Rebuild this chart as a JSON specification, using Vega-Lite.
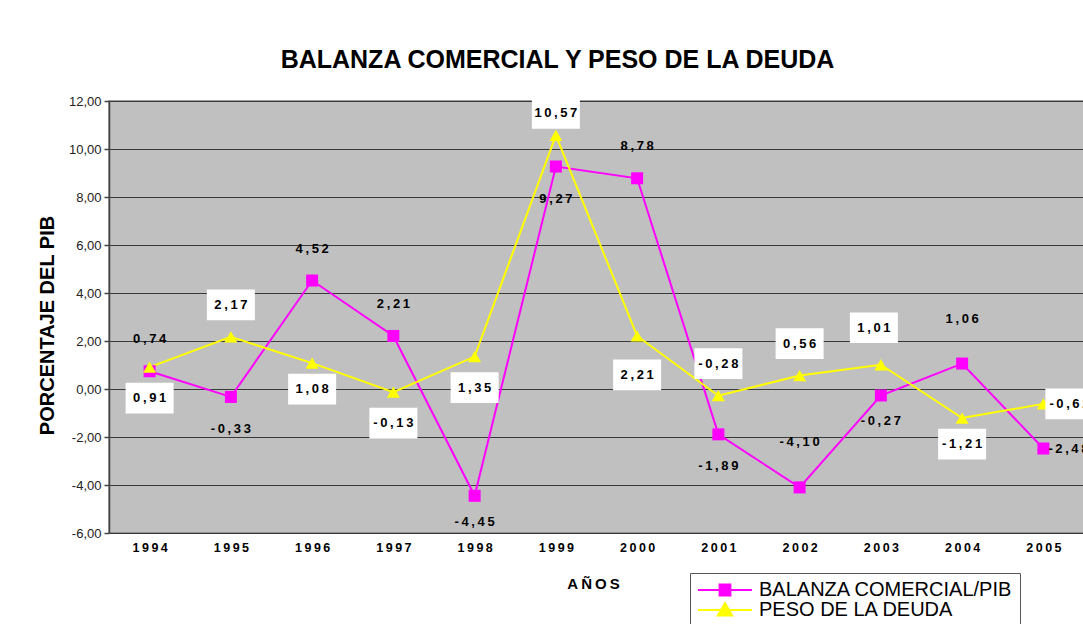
{
  "$schema": "https://vega.github.io/schema/vega-lite/v6.json",
  "autosize": "none",
  "padding": {"left": 109, "top": 101, "right": 0, "bottom": 91},
  "width": 975,
  "height": 432,
  "background": "white",
  "title": {
    "text": "BALANZA COMERCIAL Y PESO DE LA DEUDA",
    "font": "Liberation Sans",
    "fontSize": 25,
    "fontWeight": "bold",
    "color": "black",
    "anchor": "middle",
    "offset": 22,
    "dx": -39
  },
  "config": {
    "view": {"fill": "#C0C0C0", "stroke": "#808080", "strokeWidth": 1.5},
    "font": "Liberation Sans"
  },
  "data": {
    "values": [
      {"anio": "1994", "serie": "BALANZA COMERCIAL/PIB", "valor": 0.74},
      {"anio": "1995", "serie": "BALANZA COMERCIAL/PIB", "valor": -0.33},
      {"anio": "1996", "serie": "BALANZA COMERCIAL/PIB", "valor": 4.52},
      {"anio": "1997", "serie": "BALANZA COMERCIAL/PIB", "valor": 2.21},
      {"anio": "1998", "serie": "BALANZA COMERCIAL/PIB", "valor": -4.45},
      {"anio": "1999", "serie": "BALANZA COMERCIAL/PIB", "valor": 9.27},
      {"anio": "2000", "serie": "BALANZA COMERCIAL/PIB", "valor": 8.78},
      {"anio": "2001", "serie": "BALANZA COMERCIAL/PIB", "valor": -1.89},
      {"anio": "2002", "serie": "BALANZA COMERCIAL/PIB", "valor": -4.10},
      {"anio": "2003", "serie": "BALANZA COMERCIAL/PIB", "valor": -0.27},
      {"anio": "2004", "serie": "BALANZA COMERCIAL/PIB", "valor": 1.06},
      {"anio": "2005", "serie": "BALANZA COMERCIAL/PIB", "valor": -2.48},
      {"anio": "1994", "serie": "PESO DE LA DEUDA", "valor": 0.91},
      {"anio": "1995", "serie": "PESO DE LA DEUDA", "valor": 2.17},
      {"anio": "1996", "serie": "PESO DE LA DEUDA", "valor": 1.08},
      {"anio": "1997", "serie": "PESO DE LA DEUDA", "valor": -0.13},
      {"anio": "1998", "serie": "PESO DE LA DEUDA", "valor": 1.35},
      {"anio": "1999", "serie": "PESO DE LA DEUDA", "valor": 10.57},
      {"anio": "2000", "serie": "PESO DE LA DEUDA", "valor": 2.21},
      {"anio": "2001", "serie": "PESO DE LA DEUDA", "valor": -0.28},
      {"anio": "2002", "serie": "PESO DE LA DEUDA", "valor": 0.56},
      {"anio": "2003", "serie": "PESO DE LA DEUDA", "valor": 1.01},
      {"anio": "2004", "serie": "PESO DE LA DEUDA", "valor": -1.21},
      {"anio": "2005", "serie": "PESO DE LA DEUDA", "valor": -0.62}
    ]
  },
  "encoding": {
    "x": {
      "field": "anio",
      "type": "ordinal",
      "scale": {"type": "point", "padding": 0.5},
      "axis": {
        "title": "A\u2009Ñ\u2009O\u2009S",
        "titleFont": "Liberation Sans",
        "titleFontSize": 15,
        "titleFontWeight": "bold",
        "titleColor": "black",
        "titleX": 484,
        "titleY": 50,
        "titleBaseline": "middle",
        "titleAlign": "center",
        "labelAngle": 0,
        "labelFont": "Liberation Sans",
        "labelFontSize": 12.5,
        "labelFontWeight": "bold",
        "labelColor": "black",
        "labelPadding": 8,
        "labelExpr": "join(split(datum.label, ''), '\u2009')",
        "domain": false,
        "ticks": false,
        "grid": false
      }
    },
    "y": {
      "field": "valor",
      "type": "quantitative",
      "scale": {"domain": [-6, 12], "nice": false, "zero": false},
      "axis": {
        "values": [-6, -4, -2, 0, 2, 4, 6, 8, 10, 12],
        "labelExpr": "replace(replace(format(datum.value, '.2f'), '.', ','), '\u2212', '-')",
        "labelFont": "Liberation Sans",
        "labelFontSize": 13,
        "labelColor": "#222222",
        "labelPadding": 3,
        "domain": true,
        "domainColor": "#444444",
        "domainWidth": 1.5,
        "ticks": true,
        "tickSize": 5,
        "tickColor": "#444444",
        "tickWidth": 1.5,
        "grid": true,
        "gridColor": "#3a3a3a",
        "gridWidth": 1.2,
        "title": "PORCENTAJE DEL PIB",
        "titleFont": "Liberation Sans",
        "titleFontSize": 20,
        "titleFontWeight": "bold",
        "titleColor": "black",
        "titleX": -62,
        "titleY": 224,
        "titleAngle": 270,
        "titleAlign": "center",
        "titleBaseline": "middle"
      }
    }
  },
  "layer": [
    {
      "mark": {"type": "line", "strokeWidth": 2},
      "encoding": {
        "color": {
          "field": "serie",
          "type": "nominal",
          "scale": {
            "domain": ["BALANZA COMERCIAL/PIB", "PESO DE LA DEUDA"],
            "range": ["#FF00FF", "#FFFF00"]
          },
          "legend": {
            "orient": "none",
            "legendX": 581,
            "legendY": 472,
            "title": null,
            "strokeColor": "#555555",
            "fillColor": "white",
            "padding": 7,
            "rowPadding": -4,
            "labelFont": "Liberation Sans",
            "labelFontSize": 20,
            "labelColor": "black",
            "labelLimit": 0,
            "labelOffset": 42,
            "symbolSize": 324,
            "symbolStrokeWidth": 2,
            "encode": {
              "symbols": {
                "update": {
                  "shape": {"signal": "datum.value == 'PESO DE LA DEUDA' ? 'M-1,0H5M2,-0.75L2.8,0.6H1.2Z' : 'M-1,0H5M1.4,-0.6H2.6V0.6H1.4Z'"},
                  "fill": {"signal": "datum.value == 'PESO DE LA DEUDA' ? '#FFFF00' : '#FF00FF'"},
                  "stroke": {"signal": "datum.value == 'PESO DE LA DEUDA' ? '#FFFF00' : '#FF00FF'"},
                  "strokeWidth": {"value": 2},
                  "opacity": {"value": 1}
                }
              }
            }
          }
        }
      }
    },
    {
      "transform": [{"filter": "datum.serie == 'BALANZA COMERCIAL/PIB'"}],
      "mark": {"type": "point", "shape": "square", "filled": true, "size": 144, "color": "#FF00FF", "opacity": 1}
    },
    {
      "transform": [{"filter": "datum.serie == 'PESO DE LA DEUDA'"}],
      "mark": {"type": "point", "shape": "triangle-up", "filled": true, "size": 170, "color": "#FFFF00", "opacity": 1}
    },
    {
      "transform": [{"filter": "datum.serie == 'BALANZA COMERCIAL/PIB'"}],
      "mark": {
        "type": "text",
        "font": "Liberation Sans",
        "fontSize": 13,
        "fontWeight": "bold",
        "color": "black",
        "baseline": "middle",
        "text": {"expr": "join(split(replace(replace(format(datum.valor, '.2f'), '.', ','), '\u2212', '-'), ''), '\u2009')"},
        "align": {"expr": "datum.anio == '2005' ? 'left' : 'center'"},
        "dx": {"expr": "datum.anio == '2005' ? 5 : 0"},
        "dy": {"expr": "datum.anio == '2005' ? 0 : (datum.anio == '2002' || datum.anio == '2004') ? -45 : indexof(['1994','1996','1997','2000'], datum.anio) >= 0 ? -32 : indexof(['1998','2003'], datum.anio) >= 0 ? 26 : 32"}
      }
    },
    {
      "transform": [{"filter": "datum.serie == 'PESO DE LA DEUDA'"}],
      "mark": {
        "type": "point",
        "shape": "M-1,-0.64H1V0.64H-1Z",
        "filled": true,
        "size": 2304,
        "color": "white",
        "strokeWidth": 0,
        "opacity": 1,
        "xOffset": {"expr": "datum.anio == '2005' ? 26 : datum.anio == '2003' ? -7 : 0"},
        "yOffset": {"expr": "datum.anio == '2005' ? 0 : datum.anio == '2003' ? -37 : datum.anio == '1999' ? -22 : datum.anio == '2000' ? 39 : indexof(['1995','2001','2002'], datum.anio) >= 0 ? -32 : indexof(['1996','2004'], datum.anio) >= 0 ? 26 : 31"}
      }
    },
    {
      "transform": [{"filter": "datum.serie == 'PESO DE LA DEUDA'"}],
      "mark": {
        "type": "text",
        "font": "Liberation Sans",
        "fontSize": 13,
        "fontWeight": "bold",
        "color": "black",
        "baseline": "middle",
        "text": {"expr": "join(split(replace(replace(format(datum.valor, '.2f'), '.', ','), '\u2212', '-'), ''), '\u2009')"},
        "align": {"expr": "datum.anio == '2005' ? 'left' : 'center'"},
        "dx": {"expr": "datum.anio == '2005' ? 6 : datum.anio == '2003' ? -7 : 0"},
        "dy": {"expr": "datum.anio == '2005' ? 0 : datum.anio == '2003' ? -37 : datum.anio == '1999' ? -22 : datum.anio == '2000' ? 39 : indexof(['1995','2001','2002'], datum.anio) >= 0 ? -32 : indexof(['1996','2004'], datum.anio) >= 0 ? 26 : 31"}
      }
    }
  ]
}
